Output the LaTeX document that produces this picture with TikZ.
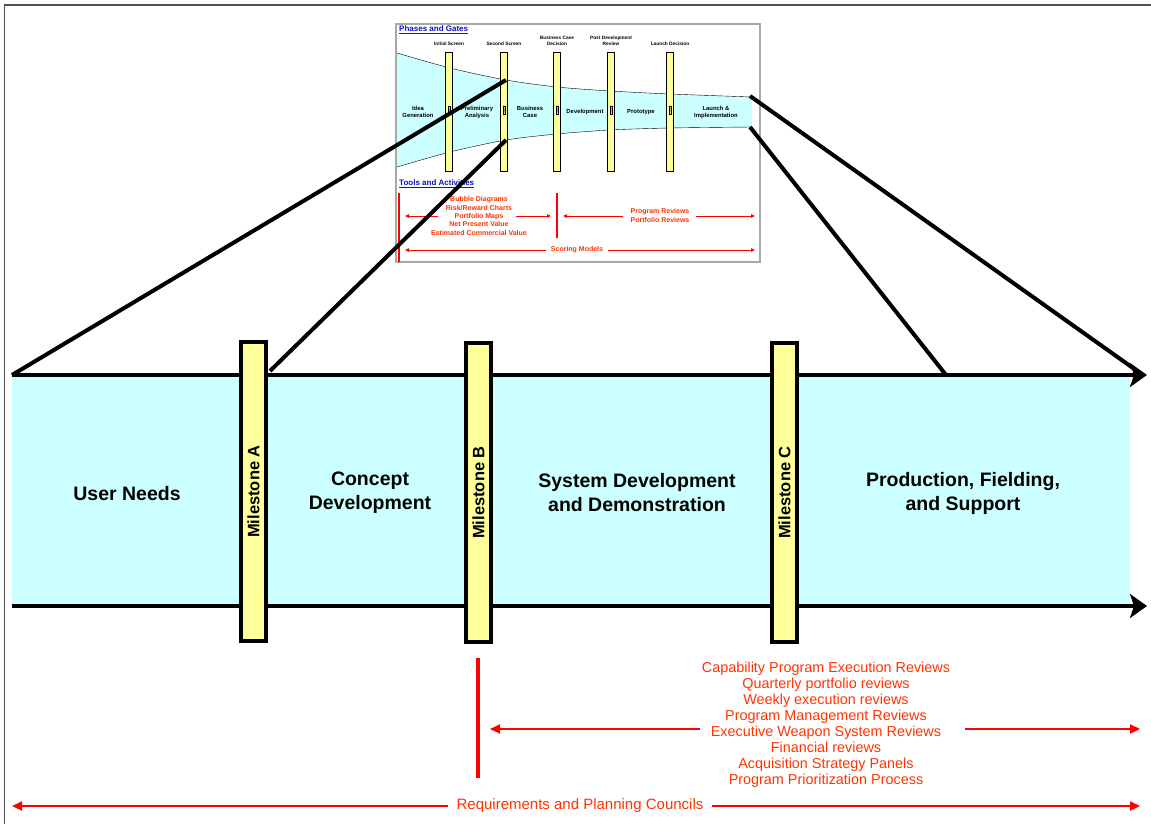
\documentclass[tikz,border=0pt]{standalone}
\usepackage{fontspec}
\setmainfont{Liberation Sans}
\usepackage{tikz}
\usepackage{xcolor}
\definecolor{BandCyan}{HTML}{CCFFFF}
\definecolor{GateYellow}{HTML}{FFFF99}
\definecolor{ReviewRed}{HTML}{FF3300}
\definecolor{ArrowRed}{HTML}{FF0000}
\definecolor{InsetBlue}{HTML}{1010C0}
\definecolor{FrameGray}{HTML}{505050}
\definecolor{InsetBorder}{HTML}{A8A8A8}
\usetikzlibrary{positioning,arrows.meta}

\begin{document}
\begin{tikzpicture}[x=1pt, y=-1pt,
  milestone/.style={draw, line width=3.5pt, fill=GateYellow, rotate=90, inner sep=0pt,
    minimum width=299pt, minimum height=25pt, font=\fontsize{16.5}{18}\selectfont\bfseries},
  phase/.style={align=center, font=\fontsize{19.5}{24}\selectfont\bfseries},
  bandline/.style={line width=4pt, -{Stealth[length=17pt, width=24pt, inset=4pt]}},
  zoomline/.style={line width=4pt},
  gatebar/.style={draw, line width=0.6pt, fill=GateYellow},
  gatelabel/.style={align=center, inner sep=0pt, font=\fontsize{4.8}{5.8}\selectfont\bfseries},
  insetphase/.style={align=center, inner sep=0pt, font=\fontsize{5.9}{7}\selectfont\bfseries},
  insettitle/.style={anchor=west, inner sep=0pt, text=InsetBlue, font=\fontsize{8}{9}\selectfont\bfseries},
  insetred/.style={align=center, inner sep=0pt, text=ReviewRed, font=\fontsize{7}{8.3}\selectfont\bfseries},
  insetarrow/.style={ArrowRed, line width=0.8pt, -{Triangle[length=4pt, width=3.5pt]}},
  redarrow/.style={ArrowRed, line width=2.2pt, -{Triangle[length=10pt, width=9pt]}},
  reviewtext/.style={align=center, inner sep=0pt, text=ReviewRed, font=\fontsize{14.4}{16}\selectfont}]

  % Page size and outer frame
  \useasboundingbox (0,0) rectangle (1151,824);
  \draw[FrameGray, line width=1.5pt] (4.5,830) -- (4.5,5) -- (1160,5);

  % Inset: phases and gates funnel
  \draw[InsetBorder, line width=1.5pt, fill=white] (396,24) rectangle (760,262);
  \fill[BandCyan] plot[smooth] coordinates {(397,53) (450,68) (506,80) (557,87) (610,91) (670,94) (752,97)}
    -- plot[smooth] coordinates {(752,127) (670,128) (610,130) (557,134) (506,140) (450,152) (397,167)} -- cycle;
  \draw[thin] plot[smooth] coordinates {(397,53) (450,68) (506,80) (557,87) (610,91) (670,94) (752,97)};
  \draw[thin] plot[smooth] coordinates {(397,167) (450,152) (506,140) (557,134) (610,130) (670,128) (752,127)};
  \node[insettitle] (phasesTitle) at (399,30) {\underline{Phases and Gates}};

  % Gates
  \foreach \gx/\gn in {449/1, 504/2, 557/3, 611/4, 670/5} {
    \draw[gatebar] (\gx-3.5,52) rectangle (\gx+3.5,171);
    \node[draw, line width=0.3pt, rotate=90, inner sep=0.4pt, font=\fontsize{2.6}{3}\selectfont] (gate\gn) at (\gx,110) {Gate \gn};
  }

  % Gate names
  \node[gatelabel, anchor=south] (initScreen) at (449,46) {Initial Screen};
  \node[gatelabel, anchor=south] (secScreen) at (504,46) {Second Screen};
  \node[gatelabel, anchor=south] (bizDecision) at (557,46) {Business Case\\Decision};
  \node[gatelabel, anchor=south] (postDev) at (611,46) {Post Development\\Review};
  \node[gatelabel, anchor=south] (launchDecision) at (670,46) {Launch Decision};

  % Phase names in the funnel
  \node[insetphase] (ideaGen) at (418,112) {Idea\\Generation};
  \node[insetphase] (prelim) at (477,112) {Preliminary\\Analysis};
  \node[insetphase] (bizCase) at (530,112) {Business\\Case};
  \node[insetphase] (devPhase) at (585,112) {Development};
  \node[insetphase] (protoPhase) at (641,112) {Prototype};
  \node[insetphase] (launchPhase) at (716,112) {Launch \&\\Implementation};

  % Tools and activities
  \node[insettitle] (toolsTitle) at (399,184) {\underline{Tools and Activities}};
  \draw[ArrowRed, line width=1.3pt] (399,193) -- (399,262);
  \draw[ArrowRed, line width=1.3pt] (557,193) -- (557,238);
  \node[insetred] (earlyTools) at (479,216) {Bubble Diagrams\\Risk/Reward Charts\\Portfolio Maps\\Net Present Value\\Estimated Commercial Value};
  \node[insetred] (laterTools) at (660,215.5) {Program Reviews\\Portfolio Reviews};
  \node[insetred] (scoring) at (577,250) {Scoring Models};
  \coordinate (earlyL) at (438,216);
  \coordinate (earlyR) at (516,216);
  \coordinate (laterL) at (623,216);
  \coordinate (laterR) at (696,216);
  \coordinate (scoreL) at (546,250);
  \coordinate (scoreR) at (608,250);
  \draw[insetarrow] (earlyL) -- (405,216);
  \draw[insetarrow] (earlyR) -- (551,216);
  \draw[insetarrow] (laterL) -- (563,216);
  \draw[insetarrow] (laterR) -- (755,216);
  \draw[insetarrow] (scoreL) -- (405,250);
  \draw[insetarrow] (scoreR) -- (755,250);

  % Acquisition band
  \fill[BandCyan] (12,375) rectangle (1130,606);
  \coordinate (bandTL) at (12,375);
  \coordinate (bandBL) at (12,606);
  \coordinate (bandTR) at (1147,375);
  \coordinate (bandBR) at (1147,606);
  \draw[bandline] (bandTL) -- (bandTR);
  \draw[bandline] (bandBL) -- (bandBR);

  % Zoom lines from the inset
  \coordinate (secGateTop) at (506,80);
  \coordinate (secGateBot) at (506,140);
  \coordinate (launchTop) at (750,96);
  \coordinate (launchBot) at (750,127);
  \coordinate (msAcorner) at (270,371);
  \coordinate (pfsCorner) at (946,375);
  \coordinate (arrowCorner) at (1140,373);
  \draw[zoomline] (bandTL) -- (secGateTop);
  \draw[zoomline] (msAcorner) -- (secGateBot);
  \draw[zoomline] (launchTop) -- (arrowCorner);
  \draw[zoomline] (launchBot) -- (pfsCorner);

  % Milestones
  \node[milestone] (msA) at (253.5,491.5) {Milestone A};
  \node[milestone] (msB) at (478.5,492.5) {Milestone B};
  \node[milestone] (msC) at (784.5,492.5) {Milestone C};

  % Phase names
  \node[phase] (userNeeds) at (127,494) {User Needs};
  \node[phase] (concept) at (370,493) {Concept\\Development};
  \node[phase] (sdd) at (637,493) {System Development\\and Demonstration};
  \node[phase] (pfs) at (963,493) {Production, Fielding,\\and Support};

  % Reviews after Milestone B
  \draw[ArrowRed, line width=3.5pt] (478,658) -- (478,778);
  \node[reviewtext] (reviews) at (826,725) {Capability Program Execution Reviews\\Quarterly portfolio reviews\\Weekly execution reviews\\Program Management Reviews\\Executive Weapon System Reviews\\Financial reviews\\Acquisition Strategy Panels\\Program Prioritization Process};
  \coordinate (reviewsL) at (700,729);
  \coordinate (reviewsR) at (965,729);
  \draw[redarrow] (reviewsL) -- (490,729);
  \draw[redarrow] (reviewsR) -- (1140,729);

  % Requirements and planning councils
  \node[reviewtext, font=\fontsize{15}{16}\selectfont] (councils) at (580,806) {Requirements and Planning Councils};
  \coordinate (councilL) at (12,806);
  \coordinate (councilR) at (1140,806);
  \draw[redarrow] (councils.west) ++(-8,0) -- (councilL);
  \draw[redarrow] (councils.east) ++(8,0) -- (councilR);
\end{tikzpicture}
\end{document}
